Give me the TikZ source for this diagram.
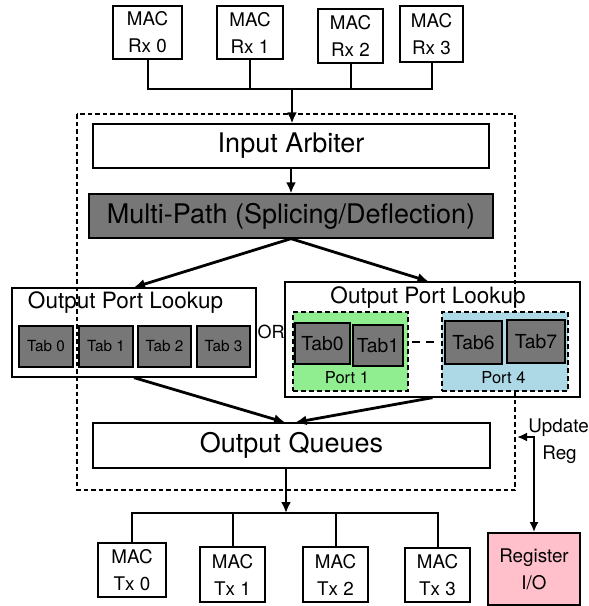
\documentclass[tikz,border=0pt]{standalone}
\usepackage{fontspec}
\setmainfont{TeX Gyre Heros}
\usetikzlibrary{arrows.meta}
\definecolor{blockgray}{HTML}{777777}
\definecolor{portgreen}{HTML}{90EE90}
\definecolor{portblue}{HTML}{ADD8E6}
\definecolor{regpink}{HTML}{FFC0CB}
\tikzset{
  box/.style={draw, line width=1.3pt, inner sep=0pt, align=center},
  macbox/.style={box, line width=1.8pt, font=\fontsize{18.8}{27}\selectfont},
  stage/.style={box, font=\fontsize{27}{32}\selectfont},
  tabbox/.style={draw, line width=2.6pt, fill=blockgray, inner sep=0pt},
  portbox/.style={draw, line width=2pt, dash pattern=on 5pt off 3pt, inner sep=0pt},
  flow/.style={line width=2.8pt, -{Latex[length=11pt,width=10pt]}},
  bus/.style={line width=2pt},
}
\begin{document}
\begin{tikzpicture}[x=1pt, y=-1pt]
\useasboundingbox (0,0) rectangle (589,606);

% receive MACs
\node[macbox, minimum width=69pt, minimum height=53pt] (rx0) at (147.5,32.5) {MAC\\Rx 0};
\node[macbox, minimum width=66pt, minimum height=53pt] (rx1) at (250,32.5) {MAC\\Rx 1};
\node[macbox, minimum width=65pt, minimum height=54pt] (rx2) at (350.5,36) {MAC\\Rx 2};
\node[macbox, minimum width=63pt, minimum height=56pt] (rx3) at (431.5,34) {MAC\\Rx 3};
\coordinate (rxbus) at (292,89);

% datapath boundary
\draw[line width=2pt, dash pattern=on 4.5pt off 3pt] (77,114) rectangle (515,490);

\node[stage, minimum width=396pt, minimum height=44pt] (arb) at (291,146) {Input Arbiter};
\node[stage, fill=blockgray, minimum width=404pt, minimum height=44pt] (mp) at (291,216) {Multi-Path (Splicing/Deflection)};

% lookup with one table per port
\node[box, minimum width=244pt, minimum height=89pt] (opl1) at (134,332.5) {};
\node[font=\fontsize{22.5}{26}\selectfont] (opl1t) at (125.5,303) {Output Port Lookup};
\foreach \n/\x/\w in {0/46/54, 1/106/54, 2/164.5/53, 3/223.5/53}
  \node[tabbox, minimum width=\w pt, minimum height=41pt, font=\fontsize{15.3}{18}\selectfont] (ta\n) at (\x,346.5) {Tab \n};

\node[font=\fontsize{18}{20}\selectfont] (or) at (271,332) {OR};

% lookup with tables grouped by port
\node[box, minimum width=295pt, minimum height=115pt] (opl2) at (432.5,339.5) {};
\node[font=\fontsize{22.5}{26}\selectfont] (opl2t) at (428,298) {Output Port Lookup};
\node[portbox, fill=portgreen, minimum width=115pt, minimum height=79pt] (p1) at (350.5,351.5) {};
\node[portbox, fill=portblue, minimum width=126pt, minimum height=79pt] (p4) at (505,351.5) {};
\node[tabbox, minimum width=55pt, minimum height=41pt, font=\fontsize{19.3}{22}\selectfont] (tb0) at (322.5,343.5) {Tab0};
\node[tabbox, minimum width=50pt, minimum height=41pt, font=\fontsize{19.3}{22}\selectfont] (tb1) at (378,345.5) {Tab1};
\node[tabbox, minimum width=57pt, minimum height=43pt, font=\fontsize{19.3}{22}\selectfont] (tb6) at (473.5,342.5) {Tab6};
\node[tabbox, minimum width=58pt, minimum height=43pt, font=\fontsize{19.3}{22}\selectfont] (tb7) at (536,341.5) {Tab7};
\node[font=\fontsize{16.5}{19}\selectfont] (p1t) at (347,378) {Port 1};
\node[font=\fontsize{16.5}{19}\selectfont] (p4t) at (503.5,378) {Port 4};
\draw[line width=2pt, dash pattern=on 8pt off 6pt] ([xshift=3pt, yshift=9.5pt]p1.east) -- ([xshift=-5pt, yshift=9.5pt]p4.west);

\node[stage, minimum width=397pt, minimum height=45pt] (oq) at (291.5,445.5) {Output Queues};

% transmit MACs
\coordinate (txbus) at (286,513);
\node[macbox, minimum width=68pt, minimum height=54pt] (tx0) at (132,570) {MAC\\Tx 0};
\node[macbox, minimum width=65pt, minimum height=55pt] (tx1) at (232.5,574.5) {MAC\\Tx 1};
\node[macbox, minimum width=65pt, minimum height=55pt] (tx2) at (335.5,574.5) {MAC\\Tx 2};
\node[macbox, minimum width=65pt, minimum height=54pt] (tx3) at (437.5,575) {MAC\\Tx 3};

\node[macbox, fill=regpink, minimum width=92pt, minimum height=72pt] (reg) at (534,569) {Register\\I/O};
\coordinate (upd) at (517,437);
\node[font=\fontsize{18.8}{22}\selectfont] (updt) at (558.5,428) {Update};
\node[font=\fontsize{18.8}{22}\selectfont] (regt) at (559.5,455) {Reg};

% receive bus
\draw[bus] (rx0.south) |- (rxbus) -| (rx3.south);
\draw[bus] (rx1.south) -- (rx1.south |- rxbus);
\draw[bus] (rx2.south) -- (rx2.south |- rxbus);
\draw[flow] (rxbus) -- (arb.north -| rxbus);

% datapath flow
\draw[flow] (arb.south) -- (mp.north);
\draw[flow] (mp.south) -- (opl1.north);
\draw[flow] (mp.south) -- ([xshift=-4pt]opl2.north);
\draw[flow] (opl1.south) -- ([xshift=-6.5pt]oq.north);
\draw[flow] (opl2.south) -- ([xshift=4pt]oq.north);
\draw[flow] (oq.south -| txbus) -- (txbus);

% transmit bus
\draw[bus] (tx0.north) |- (txbus) -| (tx3.north);
\draw[bus] (tx1.north) -- (tx1.north |- txbus);
\draw[bus] (tx2.north) -- (tx2.north |- txbus);

% register access
\draw[line width=2pt, {Latex[length=10pt,width=9pt]}-{Latex[length=10pt,width=9pt]}] (upd) -| (reg.north);
\end{tikzpicture}
\end{document}
